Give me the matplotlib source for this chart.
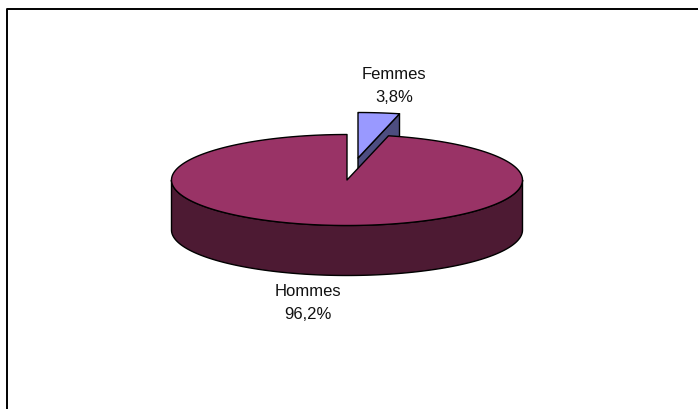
import numpy as np
import matplotlib
matplotlib.use('Agg')
import matplotlib.pyplot as plt
from matplotlib.patches import Polygon

labels = ['Femmes', 'Hommes']
values = [3.8, 96.2]

plt.rc('font', family='Liberation Sans')

# pie geometry, in image pixels
cx, cy = 347, 181
rx, ry = 175.5, 45.5
depth = 50
offset = (11, -22)

top_colors = ['#9999ff', '#993366']
side_colors = ['#4d4d80', '#4d1a33']


def rim(a0, a1, dx=0, dy=0, n=200):
    # angles in degrees, clockwise from the top of the pie
    t = np.radians(np.linspace(a0, a1, n))
    return np.column_stack([cx + dx + rx * np.sin(t), cy + dy - ry * np.cos(t)])


def shape(ax, pts, color, z):
    ax.add_patch(Polygon(pts, closed=True, facecolor=color, edgecolor='black',
                         linewidth=1.0, joinstyle='round', zorder=z))


fig = plt.figure(figsize=(6.98, 4.10), dpi=100)
ax = fig.add_axes([0, 0, 1, 1])
ax.set_xlim(0, 698)
ax.set_ylim(410, 0)
ax.axis('off')

# frame: only left and top are visible, the rest is cut off
ax.plot([7, 7, 698], [410, 9.5, 9.5], color='black', lw=1.4, zorder=1)

sweep = 360 * values[0] / sum(values)

# Femmes slice, pulled out
apex = np.array([[cx + offset[0], cy + offset[1]]])
edge = rim(sweep, sweep, *offset, n=1)
shape(ax, np.vstack([apex, edge, edge + [0, depth], apex + [0, depth]]), side_colors[0], 2)
shape(ax, np.vstack([apex, rim(0, sweep, *offset)]), top_colors[0], 3)

# Hommes slice: side wall is the front half of the rim
front = rim(90, 270)
shape(ax, np.vstack([front, (front + [0, depth])[::-1]]), side_colors[1], 4)
shape(ax, np.vstack([[[cx, cy]], rim(sweep, 360)]), top_colors[1], 5)

for name, v, x, y in zip(labels, values, [394, 308], [86, 303]):
    ax.text(x, y, name + '\n' + f'{v:.1f}%'.replace('.', ','), ha='center', va='center',
            fontsize=12, color='#111111', linespacing=1.7, zorder=6)

fig.savefig('out.png', dpi=100)
